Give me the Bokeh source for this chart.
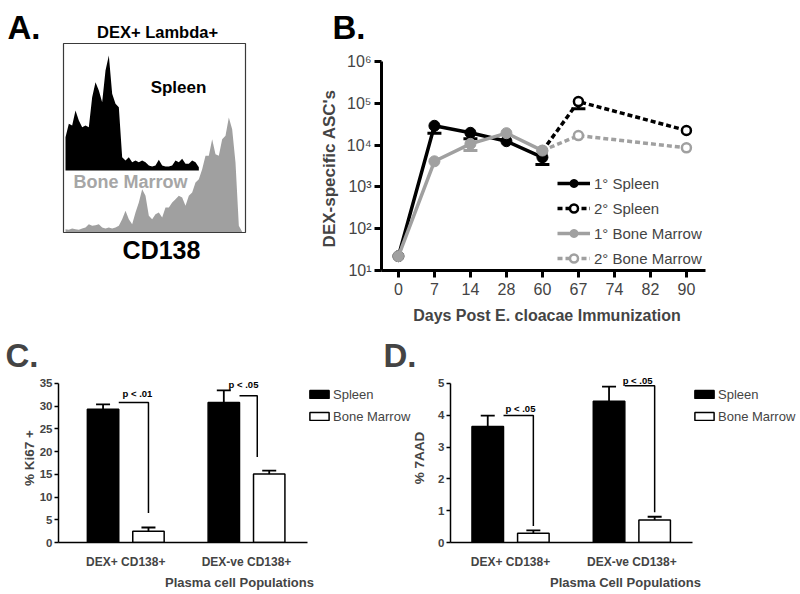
from bokeh.plotting import figure
from bokeh.models import (Range1d, FixedTicker, Label, Legend, LegendItem, Whisker,
                          TeeHead, ColumnDataSource, Title)
from bokeh.layouts import row, column
from bokeh.core.properties import value
from bokeh.embed import file_html
from bokeh.resources import INLINE

FONT = "Liberation Sans"
GRAY = "#a0a0a0"

# ---------------- data ----------------
# Panel A: CD138 histograms (events per channel bin)
spleen_counts = [100, 140, 135, 180, 150, 130, 135, 130, 220, 265, 240, 205, 300, 345,
                 230, 200, 190, 40, 30, 40, 25, 30, 25, 30, 25, 15, 12, 15, 32, 15,
                 12, 12, 15, 30, 25, 35, 20, 20, 30, 25, 10]
bm_counts = [10, 8, 12, 10, 8, 12, 15, 25, 20, 22, 25, 15, 12, 15, 12, 15, 20, 40, 65,
             40, 25, 60, 90, 130, 110, 50, 40, 55, 60, 45, 75, 75, 90, 100, 110, 105,
             80, 110, 120, 150, 160, 190, 230, 230, 280, 235, 230, 280, 290, 345, 310,
             210, 20, 2]
channel_min, channel_max, count_max = -0.6, 54.0, 567

# Panel B: DEX-specific ASCs
days = ["0", "7", "14", "28", "60", "67", "74", "82", "90"]
primary_days = ["0", "7", "14", "28", "60"]
secondary_days = ["60", "67", "90"]
spleen_1 = [22, 29000, 19700, 12400, 5100]
spleen_1_low = [None, 19300, 14100, None, 3440]
bm_1 = [22, 4100, 10700, 19300, 7400]
bm_1_low = [None, None, 7400, None, None]
spleen_2 = [7200, 110000, 22400]
spleen_2_low = [None, 74000, None]
bm_2 = [7400, 16900, 8600]
y_tick_values = [10, 100, 1000, 10000, 100000, 1000000]
y_tick_labels = ["10\u00b9", "10\u00b2", "10\u00b3", "10\u2074", "10\u2075", "10\u2076"]

# Panels C / D
populations = ["DEX+ CD138+", "DEX-ve CD138+"]
ki67_spleen = [29.3, 30.8]
ki67_spleen_err = [1.1, 2.7]
ki67_bm = [2.5, 15.1]
ki67_bm_err = [0.8, 0.7]
ki67_p = ["p < .01", "p < .05"]
aad_spleen = [3.65, 4.44]
aad_spleen_err = [0.34, 0.46]
aad_bm = [0.29, 0.71]
aad_bm_err = [0.09, 0.10]
aad_p = ["p < .05", "p < .05"]


def lin(p, p0, p1, v0, v1):
    return v0 + (p - p0) * (v1 - v0) / (p1 - p0)


def label(fig, x, y, text, size, bold=True, color="black", align="left", baseline="top"):
    fig.add_layout(Label(x=x, y=y, text=text, text_font=FONT, text_font_size=size,
                         text_font_style="bold" if bold else "normal", text_color=color,
                         text_align=align, text_baseline=baseline))


def letter_title(text, offset, standoff):
    return Title(text=text, align="left", offset=offset, standoff=standoff,
                 text_font=FONT, text_font_size="33px", text_font_style="bold")


# ---------------- Panel A (frame = whole figure; box drawn as quad) ----------------
# The A figure also spans the blank corner left of panel B, where the "B." letter sits.
B_X0 = 262
B_L, B_R, B_T, B_B = 381, 712, 61, 270
A_W, A_H = B_L, 330
BOX_L, BOX_R, BOX_T, BOX_B = 63, 245, 43, 232


def apx(px):
    return lin(px, BOX_L, BOX_R, channel_min, channel_max)


def apy(py):
    return lin(py, BOX_B, BOX_T, 0, count_max)


pa = figure(width=A_W, height=A_H, x_range=Range1d(apx(0), apx(A_W)),
            y_range=Range1d(apy(A_H), apy(0)),
            output_backend="svg", toolbar_location=None, title=None,
            x_axis_location=None, y_axis_location=None,
            min_border_left=0, min_border_right=0, min_border_top=0, min_border_bottom=0)
pa.grid.visible = False
pa.outline_line_color = None
SPLEEN_OFFSET = 186
pa.varea(x=list(range(len(spleen_counts))), y1=SPLEEN_OFFSET,
         y2=[SPLEEN_OFFSET + c for c in spleen_counts], fill_color="black")
pa.varea(x=list(range(len(bm_counts))), y1=0, y2=bm_counts, fill_color=GRAY)
pa.quad(left=channel_min, right=channel_max, bottom=0, top=count_max,
        fill_color=None, line_color="#3a3a3a", line_width=1.2)

label(pa, apx(7), apy(8), "A.", "33px")
label(pa, apx(157), apy(31), "DEX+ Lambda+", "16.5px", align="center", baseline="middle")
label(pa, apx(178), apy(87), "Spleen", "17px", align="center", baseline="middle")
label(pa, apx(130), apy(181), "Bone Marrow", "18px", color="#a6a6a6", align="center",
      baseline="middle")
label(pa, apx(161), apy(249), "CD138", "25px", align="center", baseline="middle")
label(pa, apx(332), apy(8), "B.", "33px")

# ---------------- Panel B ----------------
AXIS_END = 705
bx0, bx_end = -0.47, 8.53
bx1 = lin(B_R, B_L, AXIS_END, bx0, bx_end)
pb = figure(width=800 - B_X0, height=330, x_range=Range1d(bx0, bx1), y_range=Range1d(10, 1e6),
            y_axis_type="log", output_backend="svg", toolbar_location=None, title=None,
            min_border_left=B_L - B_X0, min_border_right=800 - B_R,
            min_border_top=B_T, min_border_bottom=330 - B_B)
pb.border_fill_color = None
pb.background_fill_color = None
pb.grid.visible = False
pb.outline_line_color = None

x1 = [days.index(d) for d in primary_days]
x2 = [days.index(d) for d in secondary_days]


def add_whiskers(fig, xs, ys, lows, color, size, lw):
    pts = [(x, y, l) for x, y, l in zip(xs, ys, lows) if l is not None]
    if not pts:
        return
    src = ColumnDataSource(dict(x=[p[0] for p in pts], upper=[p[1] for p in pts],
                                lower=[p[2] for p in pts]))
    fig.add_layout(Whisker(source=src, base="x", upper="upper", lower="lower",
                           dimension="height", line_color=color, line_width=lw,
                           upper_head=None,
                           lower_head=TeeHead(size=size, line_color=color, line_width=lw)))


r_s2l = pb.line(x2, spleen_2, line_color="black", line_width=3.5, line_dash="5 3")
r_b2l = pb.line(x2, bm_2, line_color=GRAY, line_width=3.5, line_dash="5 3")
add_whiskers(pb, x2, spleen_2, spleen_2_low, "black", 14, 3)
r_s2p = pb.scatter(x2, spleen_2, size=9, fill_color="white", line_color="black", line_width=2.5)
r_b2p = pb.scatter(x2, bm_2, size=9, fill_color="white", line_color=GRAY, line_width=2.5)
add_whiskers(pb, x1, spleen_1, spleen_1_low, "black", 14, 3)
r_s1l = pb.line(x1, spleen_1, line_color="black", line_width=3.5)
r_s1p = pb.scatter(x1, spleen_1, size=11, fill_color="black", line_color="black")
add_whiskers(pb, x1, bm_1, bm_1_low, GRAY, 14, 3)
r_b1l = pb.line(x1, bm_1, line_color=GRAY, line_width=3.5)
r_b1p = pb.scatter(x1, bm_1, size=11, fill_color=GRAY, line_color=GRAY)

pb.xaxis.ticker = FixedTicker(ticks=list(range(len(days))))
pb.xaxis.major_label_overrides = {i: d for i, d in enumerate(days)}
pb.xaxis.bounds = (bx0, bx_end)
pb.yaxis.ticker = FixedTicker(ticks=y_tick_values)
pb.yaxis.major_label_overrides = {v: t for v, t in zip(y_tick_values, y_tick_labels)}
for ax in pb.axis:
    ax.axis_line_width = 3
    ax.major_tick_line_width = 3
    ax.major_tick_out = 7
    ax.major_tick_in = 0
    ax.minor_tick_line_color = None
    ax.major_label_text_font = FONT
    ax.major_label_text_font_size = "16px"
    ax.axis_label_text_font = FONT
    ax.axis_label_text_font_style = "bold"
    ax.axis_label_text_font_size = "17px"
pb.xaxis.major_label_standoff = 5
pb.yaxis.major_label_standoff = 3
pb.xaxis.axis_label = "Days Post E. cloacae Immunization"
pb.xaxis.axis_label_text_font_size = "16px"
pb.xaxis.axis_label_standoff = 9
pb.yaxis.axis_label = "DEX-specific  ASC's"
pb.yaxis.axis_label_standoff = 5

legend_b = Legend(items=[
    LegendItem(label="1\u00b0 Spleen", renderers=[r_s1l, r_s1p]),
    LegendItem(label="2\u00b0 Spleen", renderers=[r_s2l, r_s2p]),
    LegendItem(label="1\u00b0 Bone Marrow", renderers=[r_b1l, r_b1p]),
    LegendItem(label="2\u00b0 Bone Marrow", renderers=[r_b2l, r_b2p]),
], location=(176, 2), glyph_width=33, glyph_height=20, label_height=20, spacing=5,
    padding=0, margin=0, label_standoff=4, border_line_color=None,
    background_fill_alpha=0, label_text_font=FONT, label_text_font_size="15px")
pb.add_layout(legend_b, "center")

# ---------------- Panels C / D ----------------
DODGE = 0.188
BAR_W = 0.26
ROW2_TOP, ROW2_H = 330, 264
AX_TOP, AX_BOT, FRAME_TOP = 383, 542.5, 373


def bar_panel(fig_left, width, L, R, x0, x1, ymax, yticks, spleen, s_err, bm, b_err,
              ptext, br_top, br_bot, br_xoff, ptx, pty, ylabel, xlabel, letter, letter_px,
              margin, ylabel_standoff):
    ytop = lin(FRAME_TOP, AX_BOT, AX_TOP, 0, ymax)
    fig_right = fig_left + width
    xr = lin(fig_right, L, R, x0, x1)          # frame runs to the figure edge
    p = figure(width=width, height=ROW2_H, x_range=Range1d(x0, xr), y_range=Range1d(0, ytop),
               output_backend="svg", toolbar_location=None, title=None,
               min_border_left=round(L - fig_left), min_border_right=0,
               min_border_top=round(FRAME_TOP - ROW2_TOP),
               min_border_bottom=round(ROW2_TOP + ROW2_H - AX_BOT))
    if margin:
        p.margin = (0, 0, 0, margin)
        p.border_fill_color = None
        p.background_fill_color = None
    p.grid.visible = False
    p.outline_line_color = None
    p.add_layout(letter_title(letter, letter_px - L, 0), "above")
    xs_s = [i - DODGE for i in range(len(populations))]
    xs_b = [i + DODGE for i in range(len(populations))]
    rs = p.vbar(x=xs_s, top=spleen, width=BAR_W, fill_color="black", line_color="black",
                line_width=1.5)
    rb = p.vbar(x=xs_b, top=bm, width=BAR_W, fill_color="white", line_color="black",
                line_width=1.5)
    for xs, v, e in ((xs_s, spleen, s_err), (xs_b, bm, b_err)):
        src = ColumnDataSource(dict(x=xs, lower=v, upper=[a + b for a, b in zip(v, e)]))
        p.add_layout(Whisker(source=src, base="x", lower="lower", upper="upper",
                             dimension="height", line_color="black", line_width=1.8,
                             lower_head=None,
                             upper_head=TeeHead(size=14, line_color="black", line_width=1.8)))
    bxs, bys = [], []
    for i in range(len(populations)):
        xa = xs_s[i] + BAR_W / 2
        xb = xs_b[i] + br_xoff[i]
        bxs.append([xa, xb, xb])
        bys.append([br_top[i], br_top[i], br_bot[i]])
    p.multi_line(xs=bxs, ys=bys, line_color="black", line_width=1.5)
    p.text(x=[i + o for i, o in zip(range(len(populations)), ptx)], y=pty, text=ptext,
           text_align="center", text_baseline="middle", text_font=value(FONT),
           text_font_size=value("9.5px"), text_font_style="bold")

    p.xaxis.ticker = FixedTicker(ticks=list(range(len(populations))))
    p.xaxis.major_label_overrides = {i: s for i, s in enumerate(populations)}
    p.xaxis.bounds = (x0, x1)
    p.xaxis.major_tick_line_color = None
    p.xaxis.major_tick_out = 0
    p.xaxis.major_tick_in = 0
    p.xaxis.major_label_standoff = 12
    p.yaxis.ticker = FixedTicker(ticks=yticks)
    p.yaxis.bounds = (0, ymax)
    p.yaxis.major_tick_out = 4
    p.yaxis.major_tick_in = 0
    p.yaxis.major_label_standoff = 2
    for ax in p.axis:
        ax.axis_line_width = 1.5
        ax.major_tick_line_width = 1.5
        ax.minor_tick_line_color = None
        ax.major_label_text_font = FONT
        ax.major_label_text_font_style = "bold"
        ax.axis_label_text_font = FONT
        ax.axis_label_text_font_style = "bold"
        ax.axis_label_text_font_size = "13px"
    p.xaxis.major_label_text_font_size = "12px"
    p.yaxis.major_label_text_font_size = "11.5px"
    p.yaxis.axis_label_text_font_size = "13.5px"
    p.xaxis.axis_label = xlabel
    p.xaxis.axis_label_standoff = 3
    p.yaxis.axis_label = ylabel
    p.yaxis.axis_label_standoff = ylabel_standoff

    legend = Legend(items=[LegendItem(label="Spleen", renderers=[rs]),
                           LegendItem(label="Bone Marrow", renderers=[rb])],
                    location=(R - L, round(AX_BOT - 425)), glyph_width=24, glyph_height=10,
                    label_height=16, spacing=6, padding=0, margin=0, label_standoff=2,
                    border_line_color=None, background_fill_alpha=0,
                    label_text_font=FONT, label_text_font_size="13px")
    p.add_layout(legend, "center")
    return p


pc = bar_panel(0, 420, 58, 307, -0.557, 1.505, 35, list(range(0, 36, 5)),
               ki67_spleen, ki67_spleen_err, ki67_bm, ki67_bm_err, ki67_p,
               [30.8, 32.3], [6.5, 18.8], [0.0, -0.099], [0.097, -0.025], [32.75, 34.8],
               "% Ki67 +", "Plasma cell Populations", "C.", 5, 0, 0)
pd_ = bar_panel(382, 418, 450, 692, -0.495, 1.50, 5, [0, 1, 2, 3, 4, 5],
                aad_spleen, aad_spleen_err, aad_bm, aad_bm_err, aad_p,
                [3.99, 4.93], [0.52, 0.95], [0.0, 0.0], [0.082, 0.047], [4.2, 5.1],
                "% 7AAD", "Plasma Cell Populations", "D.", 383, -38, 8)

layout = column(row(column(pa), column(pb, margin=(0, 0, 0, B_X0 - A_W))), row(pc, pd_))
open("out.html", "w").write(file_html(layout, INLINE))
